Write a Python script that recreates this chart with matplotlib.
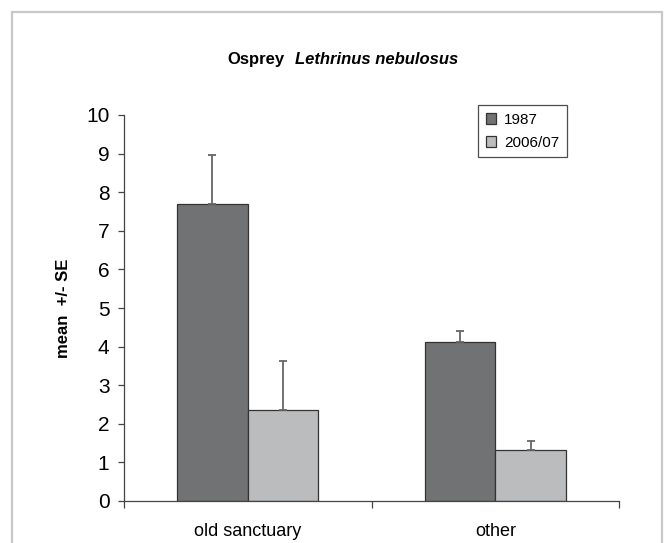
import matplotlib.pyplot as plt
from matplotlib.patches import Rectangle
import numpy as np

plt.rcParams['font.family'] = ['Liberation Sans', 'DejaVu Sans']

categories = ['old sanctuary', 'other']
series = ['1987', '2006/07']
means_1987 = [7.69, 4.13]
means_2006 = [2.35, 1.31]
se_1987 = [1.27, 0.28]
se_2006 = [1.28, 0.25]

colors = ['#717273', '#bbbcbe']
W, H = 670, 543

fig = plt.figure(figsize=(W / 100, H / 100), dpi=100)
ax = fig.add_axes([124 / W, 1 - 501 / H, 495 / W, 386 / H])

# light grey frame round the chart (bottom edge falls off the image)
fig.patches.append(Rectangle((12 / W, -0.05), (662 - 12) / W, 1.05 - 12 / H,
                             transform=fig.transFigure, fill=False,
                             edgecolor='#c8c8c8', linewidth=1.6))

x = np.arange(len(categories))
width = 0.285
err_style = dict(ecolor='#666666', elinewidth=1.3, capsize=3, capthick=1.3)
ax.bar(x - width / 2, means_1987, width, color=colors[0], edgecolor='#333333',
       linewidth=0.9, label=series[0],
       yerr=[np.zeros(len(se_1987)), se_1987], error_kw=err_style)
ax.bar(x + width / 2, means_2006, width, color=colors[1], edgecolor='#333333',
       linewidth=0.9, label=series[1],
       yerr=[np.zeros(len(se_2006)), se_2006], error_kw=err_style)

ax.set_xlim(-0.5, len(categories) - 0.5)
ax.set_ylim(0, 10)
ax.set_yticks(range(0, 11))
ax.tick_params(axis='y', labelsize=15, length=4.5, width=0.9, color='#444444', pad=6)
ax.set_xticks(x)
ax.set_xticklabels(categories, fontsize=13)
ax.set_xticks(np.arange(-0.5, len(categories)), minor=True)
ax.tick_params(axis='x', which='major', length=0, pad=16)
ax.tick_params(axis='x', which='minor', length=5, width=0.9, color='#444444')

for side in ['top', 'right']:
    ax.spines[side].set_visible(False)
for side in ['left', 'bottom']:
    ax.spines[side].set_color('#444444')
    ax.spines[side].set_linewidth(0.9)

ax.set_ylabel('mean  +/- SE', fontsize=12, fontweight='bold', labelpad=11)

fig.text(227 / W, 1 - 59 / H, 'Osprey', fontsize=12, fontweight='bold',
         ha='left', va='center')
fig.text(295 / W, 1 - 59 / H, 'Lethrinus nebulosus', fontsize=12,
         fontweight='bold', style='italic', ha='left', va='center')

leg = ax.legend(loc='upper left', bbox_to_anchor=(354 / 495, 396 / 386),
                fontsize=11, frameon=True, fancybox=False, borderpad=0.5,
                handlelength=0.7, handleheight=0.7, handletextpad=0.5,
                labelspacing=0.6, borderaxespad=0)
leg.get_frame().set_edgecolor('#222222')
leg.get_frame().set_linewidth(0.9)

fig.savefig('out.png', dpi=100)
